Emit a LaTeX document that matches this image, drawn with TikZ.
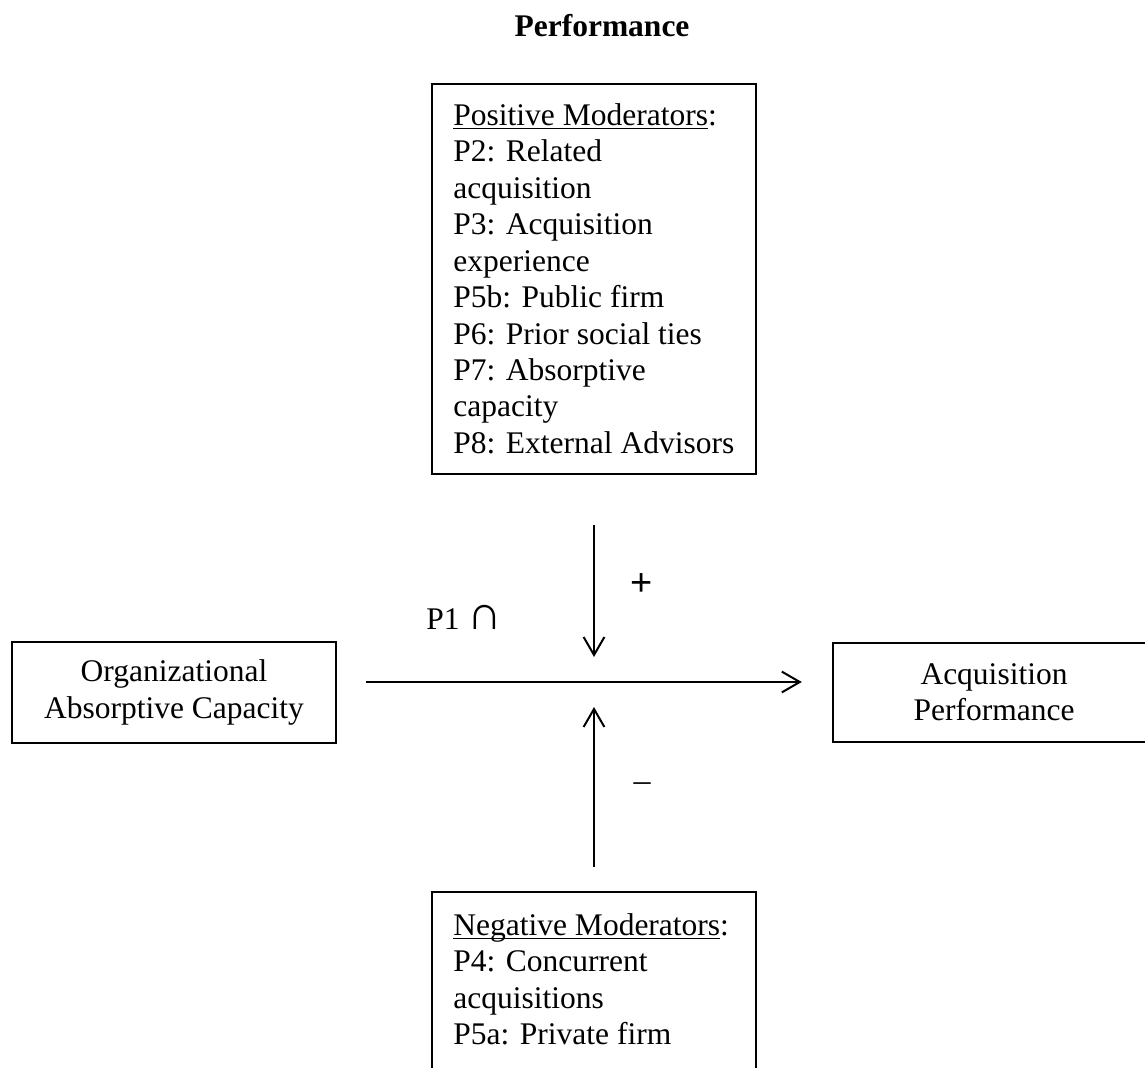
\documentclass[tikz,border=0pt]{standalone}
\usepackage{fontspec}
\setmainfont{Liberation Serif}
\newfontfamily\sansplus{Liberation Sans}
\usetikzlibrary{arrows.meta}
\newcommand\myuline[1]{\setbox0\hbox{#1}\rlap{\rule[-1.8pt]{\wd0}{0.6pt}}\box0}
\tikzset{
  boxstyle/.style={draw, line width=1.2pt, inner sep=0pt},
  txt/.style={font=\fontsize{15.75}{18.22}\selectfont, inner sep=0pt},
  arr/.style={line width=1pt, -{Straight Barb[length=9pt, width=10.4pt, line width=1pt]}},
}
\begin{document}
\begin{tikzpicture}[x=0.5pt, y=-0.5pt]
\useasboundingbox (0,0) rectangle (1145,1068);
% title
\node[txt, font=\fontsize{15.75}{18.22}\selectfont\bfseries, anchor=base] (title) at (602,37) {Performance};
% boxes
\node[boxstyle, minimum width=162pt, minimum height=195pt] (posbox) at (594,279) {};
\node[boxstyle, minimum width=162pt, minimum height=50.5pt, txt, align=center] (orgbox) at (174,692.5) {Organizational\\Absorptive Capacity};
\node[boxstyle, minimum width=161pt, minimum height=49.5pt, txt, align=center] (acqbox) at (994,692.5) {Acquisition\\Performance};
\node[boxstyle, minimum width=162pt, minimum height=100pt] (negbox) at (594,992) {};
% box texts
\node[txt, align=left, anchor=north west] (postext) at (453,99.5) {\strut\myuline{Positive Moderators}:\\
P2: Related\\
acquisition\\
P3: Acquisition\\
experience\\
P5b: Public firm\\
P6: Prior social ties\\
P7: Absorptive\\
capacity\\
P8: External Advisors};
\node[txt, align=left, anchor=north west] (negtext) at (453,909.5) {\strut\myuline{Negative Moderators}:\\
P4: Concurrent\\
acquisitions\\
P5a: Private firm};
% connectors
\coordinate (cross) at (594,682);
\draw[arr, shorten <=14.5pt, shorten >=15pt] ([yshift=5.25pt]orgbox.east) -- ([yshift=5.25pt]acqbox.west);
\draw[arr, shorten <=25pt, shorten >=12.5pt] (posbox.south) -- (cross);
\draw[arr, shorten <=12pt, shorten >=12.5pt] (negbox.north) -- (cross);
% labels
\node[txt, anchor=base west] (p1) at (426,630) {P1 {\fontsize{24}{24}\selectfont ∩}};
\node[txt, anchor=base, font=\fontsize{19}{19}\sansplus] (plus) at (642,596) {+};
\node[txt, anchor=base, font=\fontsize{17}{19}\selectfont] (minus) at (642,791.5) {–};
\end{tikzpicture}
\end{document}
